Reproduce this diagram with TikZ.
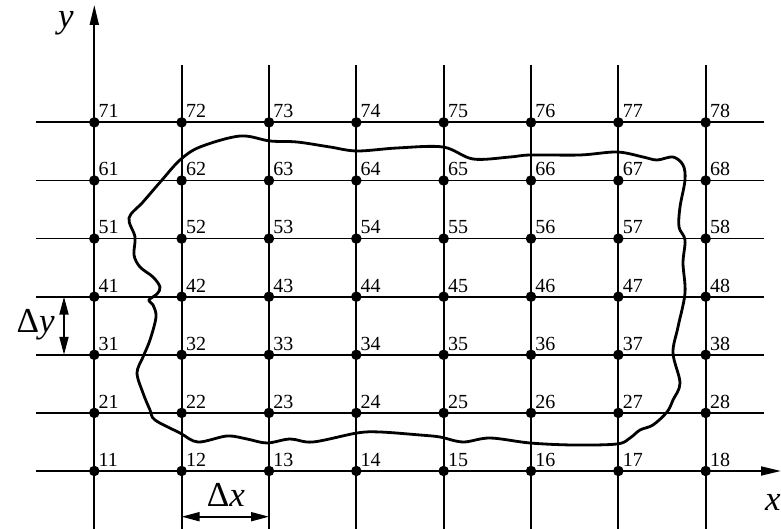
\documentclass[tikz,border=0pt]{standalone}
\usepackage{fontspec}
\setmainfont{Liberation Serif}
\usetikzlibrary{arrows.meta}
\begin{document}
\begin{tikzpicture}[x=1pt, y=1pt,
    gridline/.style={line width=1.8pt},
    dot/.style={circle, fill, inner sep=0pt, minimum size=10.5pt},
    num/.style={font=\fontsize{20}{20}\selectfont, inner sep=0pt},
    big/.style={font=\fontsize{35}{35}\selectfont},
    axis/.style={line width=1.8pt, -{Triangle[length=20pt,width=9pt]}},
    dim/.style={line width=1.8pt, {Triangle[length=18pt,width=9pt]}-{Triangle[length=18pt,width=9pt]}}]
  \useasboundingbox (0,0) rectangle (781,529);
  \def\dx{87.34}
  \def\dy{58.1}

  % Grid lines
  \foreach \c in {2,...,8} {
    \coordinate (b\c) at ({94.3+(\c-1)*\dx},0);
    \coordinate (t\c) at ({94.3+(\c-1)*\dx},464);
    \draw[gridline] (b\c) -- (t\c);
  }
  \foreach \r in {2,...,7} {
    \coordinate (l\r) at (36,{58+(\r-1)*\dy});
    \coordinate (r\r) at (764,{58+(\r-1)*\dy});
    \draw[gridline] (l\r) -- (r\r);
  }

  % Axes
  \coordinate (yb) at (94.3,0);
  \coordinate (yt) at (94.3,524);
  \coordinate (xl) at (36,58);
  \coordinate (xr) at (781,58);
  \draw[axis] (yb) -- (yt);
  \draw[axis] (xl) -- (xr);
  \node[big] (ylab) at (66,506) {\textit{y}};
  \node[big] (xlab) at (773,27) {\textit{x}};

  % Region boundary
  \draw[line width=2.8pt, smooth cycle, tension=0.55] plot coordinates {
    (129,311) (143,327) (162,349) (180,369) (200,382) (240,393) (270,388)
    (297,387) (330,382) (357,378) (397,381) (443,382) (473,370) (510,372)
    (530,374) (580,374) (617,377) (643,372) (657,369) (673,372) (683,364)
    (685,349) (680,322) (679,302) (685,289) (683,266) (685,236) (678,202)
    (673,176) (680,146) (673,129) (667,117) (653,104) (640,99) (630,91)
    (617,85) (573,84) (530,86) (490,91) (463,87) (440,92) (420,94)
    (380,97) (357,96) (313,87) (290,90) (267,86) (247,90) (227,93)
    (198,87) (180,96) (155,109) (150,119) (143,136) (137,156) (143,172)
    (150,189) (156,212) (153,224) (149,229) (157,235) (160,242) (153,252)
    (140,262) (134,274) (135,292)};

  % Mesh points
  \foreach \r in {1,...,7}
    \foreach \c in {1,...,8}
      \node[dot, label={[num, label distance=0.5pt]45:\r\c}] (p\r\c)
        at ({94.3+(\c-1)*\dx},{58+(\r-1)*\dy}) {};

  % Step sizes
  \coordinate (dyt) at (64,232.3);
  \coordinate (dyb) at (64,174.2);
  \draw[dim] (dyb) -- (dyt);
  \node[big, anchor=east, inner sep=0pt] (dylab) at (55,204) {Δ\textit{y}};
  \coordinate (dxl) at (181.6,12.3);
  \coordinate (dxr) at (269,12.3);
  \draw[dim] (dxl) -- (dxr);
  \node[big, anchor=base, inner sep=0pt] (dxlab) at (226,22) {Δ\textit{x}};
\end{tikzpicture}
\end{document}
